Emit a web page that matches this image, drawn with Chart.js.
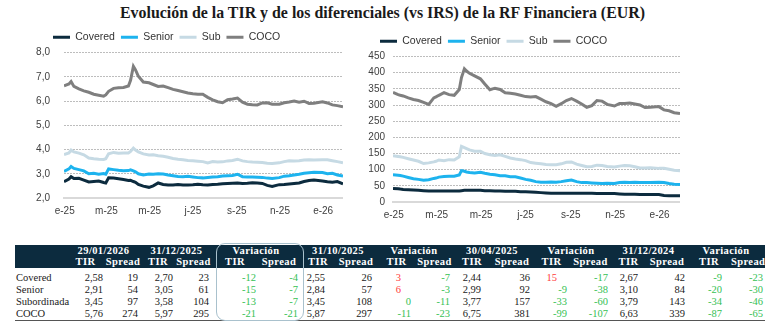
<!DOCTYPE html>
<html>
<head>
<meta charset="utf-8">
<script src="https://cdn.jsdelivr.net/npm/chart.js@4.4.1/dist/chart.umd.min.js"></script>
<style>
body{margin:0;width:765px;height:323px;background:#fff;position:relative;overflow:hidden}
#titulo{position:absolute;left:0;top:4px;width:765px;text-align:center;font:bold 15.9px "Liberation Serif",serif;color:#1a1a1a}
.caja{position:absolute}
#tabla{position:absolute;left:15px;top:245px;border-collapse:collapse;table-layout:fixed;width:750px;font:10.5px "Liberation Serif",serif;color:#1a1a1a}
#tabla td,#tabla th{padding:0;white-space:nowrap;overflow:visible}
#tabla thead th{background:#0c2b3e;color:#fff;font-weight:bold;text-align:center;letter-spacing:0.4px}
#tabla tr.h1 th{height:11px;line-height:11px}
#tabla tr.h2 th{height:12px;line-height:12px}
#tabla tbody td{height:12px;line-height:12px;text-align:right}
#tabla tbody td.lab{text-align:left;padding-left:1px}
#tabla tbody tr.ult td{border-bottom:1.5px solid #555}
#tabla tr.sep td{height:4px;line-height:4px}
#marco{position:absolute;left:216px;top:243px;width:86px;height:76px;border:1.5px solid #a9c1cd;border-radius:9px}
</style>
</head>
<body>
<div id="titulo">Evolución de la TIR y de los diferenciales (vs IRS) de la RF Financiera (EUR)</div>
<div class="caja" style="left:0;top:26px;width:343px;height:198px"><canvas id="gTIR"></canvas></div>
<div class="caja" style="left:360px;top:30px;width:320px;height:198px"><canvas id="gSpread"></canvas></div>
<table id="tabla"></table>
<div id="marco"></div>
<script>
// series de los gráficos (muestras semanales)
const fechas = ['2024-12-31','2025-01-07','2025-01-10','2025-01-14','2025-01-21','2025-01-28','2025-02-04','2025-02-11','2025-02-18','2025-02-25',
  '2025-02-28','2025-03-04','2025-03-11','2025-03-18','2025-03-25','2025-04-01','2025-04-04','2025-04-08','2025-04-11','2025-04-15',
  '2025-04-22','2025-04-30','2025-05-06','2025-05-13','2025-05-20','2025-05-27','2025-06-03','2025-06-10','2025-06-17','2025-06-24',
  '2025-07-01','2025-07-08','2025-07-15','2025-07-22','2025-07-29','2025-08-05','2025-08-12','2025-08-19','2025-08-26','2025-09-02',
  '2025-09-09','2025-09-16','2025-09-23','2025-09-30','2025-10-07','2025-10-14','2025-10-21','2025-10-31','2025-11-07','2025-11-14',
  '2025-11-21','2025-11-28','2025-12-05','2025-12-12','2025-12-19','2025-12-31','2026-01-07','2026-01-14','2026-01-21','2026-01-29'];

const coveredTIR = [2.67,2.78,2.88,2.80,2.81,2.74,2.66,2.68,2.70,2.64, 2.62,2.83,2.82,2.79,2.76,2.72,2.73,2.68,2.65,2.56,
  2.49,2.44,2.50,2.62,2.56,2.54,2.54,2.56,2.54,2.54, 2.55,2.57,2.55,2.54,2.56,2.57,2.59,2.60,2.61,2.62,
  2.60,2.61,2.63,2.62,2.60,2.52,2.48,2.55,2.56,2.58, 2.60,2.62,2.68,2.72,2.74,2.70,2.67,2.65,2.68,2.58];
const seniorTIR = [3.10,3.20,3.30,3.22,3.17,3.12,3.00,3.02,2.98,3.01, 2.98,3.20,3.17,3.14,3.12,3.13,3.16,3.12,3.08,3.00,
  2.95,2.99,2.98,3.00,2.99,2.95,2.92,2.89,2.88,2.90, 2.87,2.84,2.83,2.85,2.87,2.88,2.91,2.92,2.93,2.98,
  2.88,2.87,2.87,2.86,2.85,2.82,2.80,2.84,2.90,2.92, 2.95,2.98,3.02,3.04,3.06,3.05,3.00,3.02,2.95,2.91];
const subTIR = [3.79,3.86,3.98,3.90,3.85,3.78,3.65,3.62,3.60,3.59, 3.62,3.82,3.88,3.85,3.86,3.86,3.92,4.06,3.98,3.90,
  3.82,3.77,3.78,3.74,3.72,3.68,3.63,3.60,3.58,3.55, 3.54,3.52,3.50,3.45,3.50,3.48,3.49,3.53,3.55,3.60,
  3.53,3.50,3.48,3.47,3.46,3.43,3.42,3.45,3.50,3.54, 3.53,3.54,3.57,3.58,3.57,3.58,3.58,3.54,3.50,3.45];
const cocoTIR = [6.63,6.70,6.80,6.60,6.50,6.42,6.36,6.28,6.24,6.20, 6.25,6.40,6.52,6.55,6.56,6.62,6.85,7.43,7.28,7.02,
  6.78,6.75,6.68,6.60,6.62,6.55,6.48,6.43,6.38,6.33, 6.30,6.28,6.28,6.15,6.05,5.97,5.93,6.05,6.08,6.12,
  5.95,5.87,5.85,5.84,5.92,5.93,5.87,5.87,5.93,5.96, 6.00,5.95,5.99,5.90,5.91,5.97,5.92,5.84,5.81,5.76];

const coveredSpread = [42,41,40,39,38,37,36,35,34,34, 34,34,34,34,34,34,35,36,36,36,
  36,36,35,35,34,34,33,33,33,32, 32,31,30,29,28,27,27,27,27,27,
  27,27,27,27,26,26,26,26,25,24, 24,24,23,23,23,23,20,19,19,19];
const seniorSpread = [84,83,82,80,76,72,70,67,69,73, 74,77,79,80,80,84,97,95,93,91,
  90,92,89,86,84,81,81,78,78,74, 70,67,63,61,61,62,61,63,66,68,
  63,60,60,59,58,57,58,57,60,61, 60,61,60,60,60,61,60,57,55,54];
const subSpread = [143,141,140,138,134,130,126,119,121,124, 126,130,128,131,130,140,172,168,165,161,
  157,157,150,146,144,146,141,136,133,131, 128,122,120,118,116,115,115,118,123,124,
  117,113,109,110,114,113,110,108,111,113, 112,109,105,105,106,104,104,101,98,97];
const cocoSpread = [339,332,330,328,322,317,314,308,302,322, 325,330,338,332,330,348,385,412,405,398,
  390,381,365,347,352,348,338,336,334,330, 326,325,326,318,310,304,296,304,314,320,
  312,303,293,298,314,312,302,297,305,305, 306,303,300,292,293,295,285,282,276,274];

const nombresSeries = ['Covered','Senior','Sub','COCO'];
const coloresSeries = ['#0c2b3e','#1db3ee','#c6dae4','#7f7f7f'];
const fechasTicks = ['2025-01-01','2025-03-01','2025-05-01','2025-07-01','2025-09-01','2025-11-01','2026-01-01'];
const etiquetasX = ['e-25','m-25','m-25','j-25','s-25','n-25','e-26'];

// tabla
const filasTabla = ['Covered','Senior','Subordinada','COCO'];
const fechasTabla = ['29/01/2026','31/12/2025','31/10/2025','30/04/2025','31/12/2024'];
const tirTabla = [[2.58,2.91,3.45,5.76],[2.70,3.05,3.58,5.97],[2.55,2.84,3.45,5.87],[2.44,2.99,3.77,6.75],[2.67,3.10,3.79,6.63]];
const spreadTabla = [[19,54,97,274],[23,61,104,295],[26,57,108,297],[36,92,157,381],[42,84,143,339]];
const varTIR = [[-12,-15,-13,-21],[3,6,0,-11],[15,-9,-33,-99],[-9,-20,-34,-87]];
const varSpread = [[-4,-7,-7,-21],[-7,-3,-11,-23],[-17,-38,-60,-107],[-23,-30,-46,-65]];

const dia = s => (Date.UTC(+s.slice(0,4), +s.slice(5,7)-1, +s.slice(8,10)) - Date.UTC(2025,0,1)) / 864e5;
const xs = fechas.map(dia);

const fuenteEje = {family:'"Liberation Sans", sans-serif', size:10};
const fuenteLeyenda = {family:'"Liberation Sans", sans-serif', size:10.5};

// la leyenda empieza donde la del original, sin recortar las etiquetas del eje
const moverLeyenda = {
  id: 'moverLeyenda',
  afterUpdate(chart, args, opts) { chart.legend.left = opts.izq; }
};

function grafico(id, valores, ymin, ymax, paso, formato, conf) {
  const datasets = valores.map((serie, i) => ({
    label: nombresSeries[i],
    data: serie.map((v, k) => ({x: xs[k], y: v})),
    borderColor: coloresSeries[i],
    backgroundColor: coloresSeries[i],
    borderWidth: 3,
    pointRadius: 0,
    tension: 0
  }));
  return new Chart(document.getElementById(id), {
    type: 'line',
    data: {datasets},
    plugins: [moverLeyenda],
    options: {
      responsive: true, maintainAspectRatio: false, animation: false, devicePixelRatio: 1,
      layout: {padding: 0},
      plugins: {
        tooltip: {enabled: false},
        moverLeyenda: {izq: conf.leyenda},
        legend: {
          align: 'start',
          labels: {usePointStyle: true, pointStyle: 'line', pointStyleWidth: 17, padding: 6,
                   color: '#333', font: fuenteLeyenda}
        }
      },
      scales: {
        x: {
          type: 'linear', min: xs[0], max: xs[xs.length-1],
          afterBuildTicks: s => { s.ticks = fechasTicks.map(f => ({value: dia(f)})); },
          ticks: {autoSkip: false, maxRotation: 0, padding: 7, color: '#404040', font: fuenteEje,
                  callback: (v, i) => etiquetasX[i]},
          grid: {display: false, drawTicks: false},
          border: {display: true, color: '#d9d9d9', width: 2}
        },
        y: {
          min: ymin, max: ymax,
          afterFit: s => { s.width = conf.anchoY; },
          ticks: {stepSize: paso, autoSkip: false, padding: conf.padTick, color: '#404040', font: fuenteEje, callback: formato},
          grid: {color: '#bdbdbd', lineWidth: 1, drawTicks: false},
          border: {display: false, dash: [2, 1]}
        }
      }
    }
  });
}

grafico('gTIR', [coveredTIR, seniorTIR, subTIR, cocoTIR], 2, 8, 1,
  v => v.toFixed(1).replace('.', ','), {anchoY: 64, padTick: 14, leyenda: 47});
grafico('gSpread', [coveredSpread, seniorSpread, subSpread, cocoSpread], 0, 450, 50,
  v => String(v), {anchoY: 33, padTick: 8, leyenda: 14});

// construir tabla
const anchos = [51, 39,36, 34,37, 46,42, 36,40, 41,35, 40,40, 39,39, 37,40, 44,34];
const padNeg = [2,3, 2,3, 2,2, 11,4, 6,2, 11,2, 4,2, 9,2, 9,2];
const grupos = [];
fechasTabla.forEach((f, i) => {
  grupos.push({titulo: f, tir: tirTabla[i], spr: spreadTabla[i], nivel: true});
  if (i > 0) grupos.push({titulo: 'Variación', tir: varTIR[i-1], spr: varSpread[i-1], nivel: false});
});
let html = '<colgroup>' + anchos.map(w => '<col style="width:' + w + 'px">').join('') + '</colgroup><thead><tr class="h1"><th></th>';
grupos.forEach(g => { html += '<th colspan="2">' + g.titulo + '</th>'; });
html += '</tr><tr class="h2"><th></th>' + grupos.map(() => '<th>TIR</th><th>Spread</th>').join('') + '</tr></thead><tbody><tr class="sep"><td colspan="19"></td></tr>';
filasTabla.forEach((fila, r) => {
  html += '<tr' + (r === filasTabla.length-1 ? ' class="ult"' : '') + '><td class="lab">' + fila + '</td>';
  grupos.forEach((g, gi) => {
    [g.tir[r], g.spr[r]].forEach((v, c) => {
      const col = gi*2 + c;
      let txt, color = '#1a1a1a', pad = padNeg[col];
      if (g.nivel) {
        txt = c === 0 ? v.toFixed(2).replace('.', ',') : String(v);
      } else {
        txt = String(v);
        color = v > 0 ? '#ff3b3b' : '#35c155';
        if (v > 0) pad += 10;
      }
      html += '<td style="color:' + color + ';padding-right:' + pad + 'px">' + txt + '</td>';
    });
  });
  html += '</tr>';
});
html += '</tbody>';
document.getElementById('tabla').innerHTML = html;
</script>
</body>
</html>
